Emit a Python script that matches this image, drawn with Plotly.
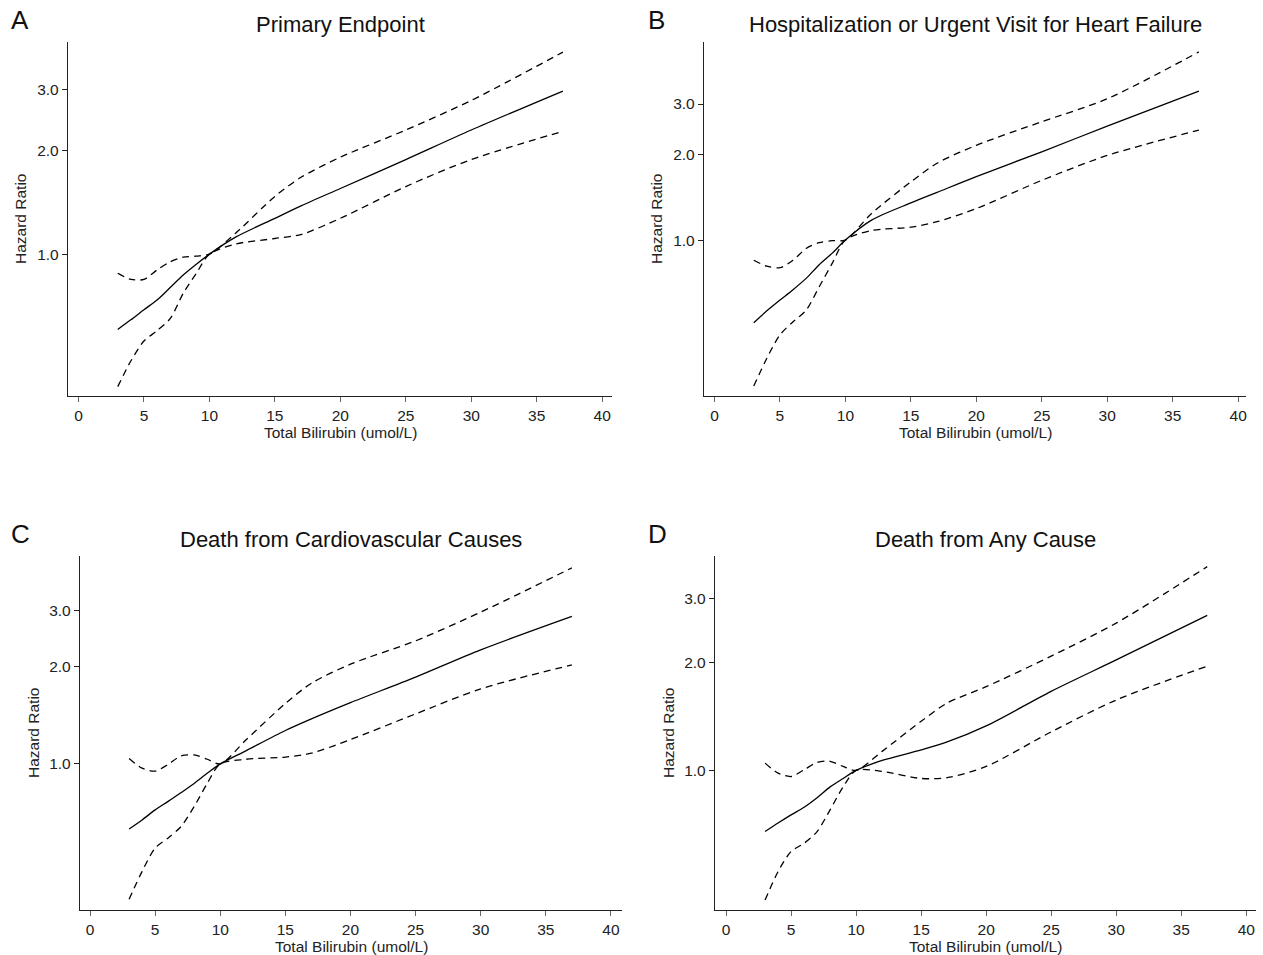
import plotly.graph_objects as go
import math

# ---------------- data ----------------
bilirubin = [3, 4, 5, 6, 7, 8, 9, 10, 12, 15, 17, 20, 25, 30, 37]

a_hr    = [0.605, 0.645, 0.69, 0.736, 0.80, 0.87, 0.935, 1.0, 1.12, 1.27, 1.38, 1.55, 1.88, 2.29, 2.97]
a_upper = [0.88, 0.845, 0.845, 0.90, 0.95, 0.98, 0.987, 1.0, 1.15, 1.47, 1.67, 1.91, 2.29, 2.79, 3.85]
a_lower = [0.413, 0.49, 0.56, 0.60, 0.65, 0.77, 0.88, 1.0, 1.07, 1.11, 1.14, 1.27, 1.57, 1.88, 2.27]

b_hr    = [0.513, 0.565, 0.616, 0.67, 0.734, 0.82, 0.90, 1.0, 1.175, 1.35, 1.47, 1.67, 2.04, 2.51, 3.33]
b_upper = [0.85, 0.81, 0.80, 0.85, 0.935, 0.98, 0.995, 1.0, 1.24, 1.6, 1.86, 2.15, 2.6, 3.13, 4.57]
b_lower = [0.308, 0.385, 0.465, 0.517, 0.568, 0.686, 0.83, 1.0, 1.08, 1.11, 1.16, 1.29, 1.62, 1.98, 2.43]

c_hr    = [0.628, 0.67, 0.72, 0.765, 0.815, 0.87, 0.935, 1.0, 1.10, 1.27, 1.38, 1.55, 1.86, 2.26, 2.87]
c_upper = [1.04, 0.97, 0.95, 0.997, 1.06, 1.066, 1.034, 1.0, 1.19, 1.54, 1.78, 2.04, 2.41, 2.96, 4.06]
c_lower = [0.38, 0.464, 0.548, 0.589, 0.64, 0.738, 0.87, 1.0, 1.034, 1.05, 1.08, 1.19, 1.43, 1.71, 2.03]

d_hr    = [0.676, 0.714, 0.752, 0.79, 0.84, 0.90, 0.95, 1.0, 1.066, 1.14, 1.2, 1.33, 1.66, 2.03, 2.70]
d_upper = [1.048, 0.983, 0.962, 1.004, 1.053, 1.06, 1.026, 1.0, 1.13, 1.37, 1.54, 1.71, 2.08, 2.57, 3.69]
d_lower = [0.436, 0.523, 0.595, 0.627, 0.676, 0.777, 0.90, 1.0, 0.994, 0.95, 0.955, 1.026, 1.28, 1.57, 1.95]

panel_letters = ["A", "B", "C", "D"]
panel_titles = ["Primary Endpoint",
                "Hospitalization or Urgent Visit for Heart Failure",
                "Death from Cardiovascular Causes",
                "Death from Any Cause"]
x_ticks = [0, 5, 10, 15, 20, 25, 30, 35, 40]
y_ticks = [1, 2, 3]
y_tick_labels = ["1.0", "2.0", "3.0"]
x_title = "Total Bilirubin (umol/L)"
y_title = "Hazard Ratio"

# ---------------- layout geometry ----------------
W, H = 1263, 955
FONT = "Liberation Sans, Arial, Helvetica, sans-serif"
# plot boxes in pixels: (left, right, top, bottom)
boxes = [(68, 612, 42, 396), (704, 1246, 42, 396), (80, 622, 556, 910), (715, 1256, 556, 910)]
x_ranges = [(-0.8, 40.75), (-0.8, 40.6), (-0.77, 40.85), (-0.85, 40.75)]
y_ranges = [(0.388, 4.12), (0.284, 4.95), (0.352, 4.42), (0.409, 3.95)]

series = [(a_hr, a_upper, a_lower), (b_hr, b_upper, b_lower),
          (c_hr, c_upper, c_lower), (d_hr, d_upper, d_lower)]

fig = go.Figure()
annotations = []
for i, ((hr, up, lo), (l, r, t, b)) in enumerate(zip(series, boxes)):
    n = "" if i == 0 else str(i + 1)
    xa, ya = "x" + n, "y" + n
    for vals, dash in ((up, "7px,5px"), (lo, "7px,5px"), (hr, "solid")):
        fig.add_trace(go.Scatter(
            x=bilirubin, y=vals, mode="lines", xaxis=xa, yaxis=ya,
            line=dict(color="black", width=1.3, dash=dash, shape="spline", smoothing=0.8),
            showlegend=False, hoverinfo="skip"))
    xdom = [l / W, r / W]
    ydom = [1 - b / H, 1 - t / H]
    fig.update_layout(**{
        "xaxis" + n: dict(domain=xdom, anchor=ya, range=list(x_ranges[i]),
                          tickmode="array", tickvals=x_ticks, ticks="outside",
                          ticklen=5, tickwidth=1, tickcolor="#666",
                          showline=True, linecolor="#222", linewidth=1.3,
                          showgrid=False, zeroline=False,
                          tickfont=dict(family=FONT, size=15.5, color="#222")),
        "yaxis" + n: dict(domain=ydom, anchor=xa, type="log",
                          range=[math.log10(y_ranges[i][0]), math.log10(y_ranges[i][1])],
                          tickmode="array", tickvals=y_ticks, ticktext=y_tick_labels,
                          ticks="outside", ticklen=5, tickwidth=1, tickcolor="#222",
                          showline=True, linecolor="#222", linewidth=1.3,
                          showgrid=False, zeroline=False,
                          tickfont=dict(family=FONT, size=15.5, color="#222")),
    })
    cx = (l + r) / 2
    # panel title
    annotations.append(dict(text=panel_titles[i], x=cx / W, y=1 - (t - 17) / H,
                            xref="paper", yref="paper", showarrow=False,
                            xanchor="center", yanchor="middle",
                            font=dict(family=FONT, size=22, color="#111")))
    # panel letter
    lx = 9 if i % 2 == 0 else 646
    annotations.append(dict(text=panel_letters[i], x=lx / W, y=1 - (t - 22) / H,
                            xref="paper", yref="paper", showarrow=False,
                            xanchor="left", yanchor="middle",
                            font=dict(family=FONT, size=26, color="#111")))
    # x axis title
    annotations.append(dict(text=x_title, x=cx / W, y=1 - (b + 36) / H,
                            xref="paper", yref="paper", showarrow=False,
                            xanchor="center", yanchor="middle",
                            font=dict(family=FONT, size=15.5, color="#222")))
    # y axis title
    annotations.append(dict(text=y_title, x=(l - 47) / W, y=1 - ((t + b) / 2) / H,
                            xref="paper", yref="paper", showarrow=False,
                            xanchor="center", yanchor="middle", textangle=-90,
                            font=dict(family=FONT, size=15.5, color="#222")))

fig.update_layout(width=W, height=H, margin=dict(l=0, r=0, t=0, b=0),
                  paper_bgcolor="white", plot_bgcolor="white",
                  annotations=annotations, showlegend=False)

fig.write_html("out.html", config={"displayModeBar": False},
               post_script="document.body.style.margin='0';document.body.style.overflow='hidden';")
